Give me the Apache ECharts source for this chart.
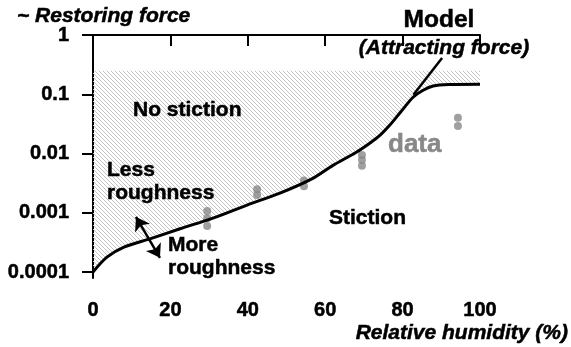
<!DOCTYPE html>
<html>
<head>
<meta charset="utf-8">
<script src="https://cdn.jsdelivr.net/npm/echarts@6/dist/echarts.min.js"></script>
<style>
html,body{margin:0;padding:0;background:#fff;}
#chart{width:571px;height:347px;}
</style>
</head>
<body>
<div id="chart"></div>
<script>
// ---- data ----
const modelX = [0, 3.6, 8, 14.7, 22.5, 31, 39.8, 48.3, 56.8, 62, 67.7, 71.6, 74.2, 76.7, 79.5, 82.7, 85.3, 87.9, 92.2, 100];
const modelY = [0.0001, 0.000178, 0.000263, 0.000363, 0.000537, 0.000813, 0.00135, 0.00214, 0.0038, 0.0063, 0.0102, 0.0151, 0.0204, 0.0302, 0.0501, 0.0891, 0.117, 0.138, 0.146, 0.148];
const dataX = [29.5, 29.5, 29.5, 42.4, 42.4, 54.5, 54.5, 69.5, 69.5, 69.5, 94.3, 94.3];
const dataY = [0.00107, 0.00081, 0.0006, 0.0025, 0.002, 0.0035, 0.0028, 0.0094, 0.0078, 0.0062, 0.04, 0.029];
const hatchTop = 0.25;
const xTicks = [0, 20, 40, 60, 80, 100];
const yTicks = [0.0001, 0.001, 0.01, 0.1, 1];
const yTickLabels = ['0.0001', '0.001', '0.01', '0.1', '1'];
const leaderLine = [[90.2, 0.41], [82.8, 0.098]];
const roughArrow = [[11.1, 0.00085], [17.3, 0.000174]];

const L = Math.log10;
const FONT = "'Liberation Sans', Arial, sans-serif";

// hatch pattern
const pc = document.createElement('canvas');
pc.width = 8; pc.height = 8;
const g = pc.getContext('2d');
g.strokeStyle = '#c2c2c2';
g.lineWidth = 1;
for (let o = -8; o <= 8; o += 4) {
  g.beginPath(); g.moveTo(o, 0); g.lineTo(o + 8, 8); g.stroke();
}

const chart = echarts.init(document.getElementById('chart'), null, {renderer: 'canvas'});
const curve = modelX.map((x, i) => [x, L(modelY[i])]);
const pts = dataX.map((x, i) => [x, L(dataY[i])]);
const yLabelMap = {};
yTicks.forEach((v, i) => { yLabelMap[Math.round(L(v))] = yTickLabels[i]; });

function txt(x, y, text, size, opts) {
  opts = opts || {};
  const color = opts.color || '#000';
  return {type: 'text', x: x, y: y, z: 10, style: {
    text: text, font: (opts.italic ? 'italic ' : '') + 'bold ' + size + 'px ' + FONT,
    fill: color, stroke: color, lineWidth: 0.5,
    align: opts.align || 'left', verticalAlign: 'middle'}};
}

const option = {
  animation: false,
  backgroundColor: '#fff',
  grid: {left: 85, right: 91, top: 35, bottom: 69},
  xAxis: {
    type: 'value', min: -2.07, max: 100,
    axisLine: {show: true, lineStyle: {color: '#000', width: 2}},
    axisTick: {show: true, length: 11, lineStyle: {color: '#000', width: 2}, customValues: xTicks},
    axisLabel: {show: true, customValues: xTicks, margin: 22, color: '#000', fontSize: 20, fontWeight: 'bold', fontFamily: FONT,
      textBorderColor: '#000', textBorderWidth: 0.5},
    splitLine: {show: false}
  },
  yAxis: {
    type: 'value', min: -4.101, max: 0,
    axisLine: {show: true, lineStyle: {color: '#000', width: 2}},
    axisTick: {show: true, length: 11, lineStyle: {color: '#000', width: 2}, customValues: yTicks.map(L)},
    axisLabel: {show: true, customValues: yTicks.map(L), margin: 16, color: '#000', fontSize: 20, fontWeight: 'bold', fontFamily: FONT,
      textBorderColor: '#000', textBorderWidth: 0.5,
      formatter: v => yLabelMap[Math.round(v)]},
    splitLine: {show: false}
  },
  series: [
    {
      type: 'line', data: curve, smooth: 0.3, showSymbol: false, z: 1,
      lineStyle: {opacity: 0, width: 0},
      areaStyle: {origin: L(hatchTop), color: {image: pc, repeat: 'repeat'}, opacity: 1}
    },
    {
      type: 'scatter', data: pts, symbol: 'circle', symbolSize: 8, z: 2,
      itemStyle: {color: '#888888'}
    },
    {
      type: 'line', data: curve, smooth: 0.3, showSymbol: false, z: 3,
      lineStyle: {color: '#000', width: 3}
    },
    {
      type: 'line', data: [], z: 4,
      markLine: {
        silent: true, animation: false,
        label: {show: false},
        lineStyle: {color: '#000', width: 2.5, type: 'solid'},
        data: [
          [{coord: [leaderLine[0][0], L(leaderLine[0][1])], symbol: 'none'}, {coord: [leaderLine[1][0], L(leaderLine[1][1])], symbol: 'none'}],
          [{coord: [roughArrow[0][0], L(roughArrow[0][1])], symbol: 'arrow', symbolSize: 13}, {coord: [roughArrow[1][0], L(roughArrow[1][1])], symbol: 'arrow', symbolSize: 13}]
        ]
      }
    }
  ],
  graphic: [
    txt(17, 16, '~ Restoring force', 21, {italic: true}),
    txt(439, 20, 'Model', 24.5, {align: 'center'}),
    txt(444, 48, '(Attracting force)', 21, {italic: true, align: 'center'}),
    txt(133, 110, 'No stiction', 21),
    txt(107, 170, 'Less', 21),
    txt(107, 193, 'roughness', 21),
    txt(168, 245, 'More', 21),
    txt(168, 268, 'roughness', 21),
    txt(329, 218, 'Stiction', 21),
    txt(388, 145, 'data', 26, {color: '#888888'}),
    txt(568, 333, 'Relative humidity (%)', 21, {italic: true, align: 'right'})
  ]
};
chart.setOption(option);
</script>
</body>
</html>
